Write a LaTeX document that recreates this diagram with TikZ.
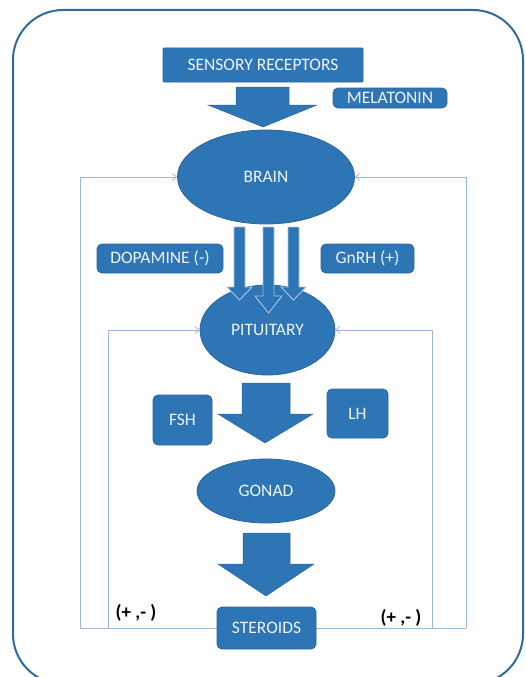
\documentclass[tikz,border=0pt]{standalone}
\usepackage{fontspec}
\setmainfont{Carlito}
\usetikzlibrary{shapes.geometric,arrows.meta}
\definecolor{boxblue}{HTML}{2E75B6}
\definecolor{boxedge}{HTML}{2A669E}
\definecolor{framecol}{HTML}{2F6B9A}
\definecolor{fbline}{HTML}{9DB9D5}
\definecolor{txt}{HTML}{EEF3F9}
\definecolor{arrowedge}{HTML}{A9C4E0}
\tikzset{
  bluebox/.style={draw=boxedge, line width=0.8pt, fill=boxblue, text=txt, rounded corners=5pt,
    inner sep=0pt, font=\fontsize{17.5}{21}\selectfont, align=center},
  blueell/.style={ellipse, draw=boxedge, line width=0.8pt, fill=boxblue, text=txt, inner sep=0pt,
    font=\fontsize{17.5}{21}\selectfont},
  blockarrow/.style={fill=boxblue, draw=boxedge, line width=0.5pt},
  thinarrow/.style={fill=boxblue, draw=arrowedge, line width=0.9pt},
  fb/.style={draw=fbline, line width=1pt},
  fbarrow/.style={fb, -{Straight Barb[length=4pt,width=7pt,line width=0.8pt]}},
  pmlabel/.style={font=\fontsize{19}{22}\selectfont\bfseries, text=black, inner sep=0pt}
}
\begin{document}
\begin{tikzpicture}[x=1pt,y=-1pt]
\useasboundingbox (0,0) rectangle (526,677);
\begin{scope}
\clip (0,0) rectangle (526,677);
\draw[framecol, line width=2pt, rounded corners=50pt] (13,10) rectangle (523,684);
\end{scope}

% nodes
\node[bluebox, rounded corners=1pt, minimum width=200pt, minimum height=34pt] (sensory) at (263,65) {SENSORY RECEPTORS};
\node[bluebox, minimum width=114pt, minimum height=20pt] (melatonin) at (390,98) {MELATONIN};
\node[blueell, minimum width=177pt, minimum height=94pt] (brain) at (266,177) {BRAIN};
\node[bluebox, minimum width=126pt, minimum height=29pt] (dopamine) at (160,258.5) {DOPAMINE (-)};
\node[bluebox, minimum width=93pt, minimum height=29pt] (gnrh) at (367.5,258.5) {GnRH (+)};
\node[blueell, minimum width=135pt, minimum height=90pt] (pituitary) at (267.5,330) {PITUITARY};
\node[bluebox, minimum width=59pt, minimum height=50pt] (fsh) at (182.5,420) {FSH};
\node[bluebox, minimum width=61pt, minimum height=49pt] (lh) at (357.5,413.5) {LH};
\node[blueell, minimum width=138pt, minimum height=64pt] (gonad) at (266,491) {GONAD};

% feedback lines
\coordinate (lo) at (80,628);
\coordinate (li) at (108,628);
\coordinate (ri) at (432,628);
\coordinate (ro) at (466,628);
\draw[fb] (lo) -- (ro);
\draw[fbarrow] (lo) |- (brain.west);
\draw[fbarrow] (ro) |- (brain.east);
\draw[fbarrow] (li) |- (pituitary.west);
\draw[fbarrow] (ri) |- (pituitary.east);

\node[bluebox, minimum width=99pt, minimum height=42pt] (steroids) at (266.5,628) {STEROIDS};
\node[pmlabel] (pmleft) at (136,613) {(+ ,- )};
\node[pmlabel] (pmright) at (401,618) {(+ ,- )};

% block arrows
\draw[blockarrow] (236,87) -- (289,87) -- (289,105) -- (317,105) -- (263,127) -- (208,105) -- (236,105) -- cycle;
\draw[blockarrow] (242,383) -- (290,383) -- (290,414) -- (313,414) -- (265,443) -- (218,414) -- (242,414) -- cycle;
\draw[blockarrow] (243,533) -- (290,533) -- (290,564) -- (314,564) -- (266,596) -- (218,564) -- (243,564) -- cycle;

% thin arrows brain -> pituitary
\draw[thinarrow] (234,227) -- (245,227) -- (245,287) -- (252,287) -- (239.5,300) -- (227,287) -- (234,287) -- cycle;
\draw[thinarrow] (263,227) -- (274,227) -- (274,296) -- (282,296) -- (268.5,313) -- (255,296) -- (263,296) -- cycle;
\draw[thinarrow] (288,227) -- (299,227) -- (299,287) -- (306,287) -- (293.5,300) -- (281,287) -- (288,287) -- cycle;
\end{tikzpicture}
\end{document}
